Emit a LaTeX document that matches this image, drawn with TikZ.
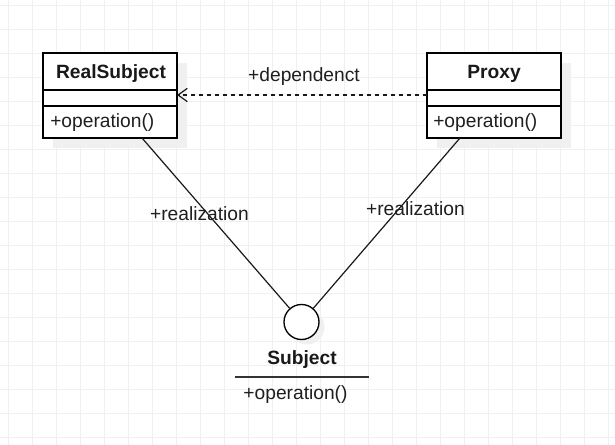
\documentclass[tikz,border=0pt]{standalone}
\usepackage{fontspec}
\setmainfont{Liberation Sans}
\usetikzlibrary{arrows.meta}
\begin{document}
\begin{tikzpicture}[x=0.75pt,y=-0.75pt,
  box/.style={draw=black,line width=1.1pt,fill=white},
  shadowbox/.style={fill=black!6,draw=none},
  lbl/.style={font=\fontsize{14.4}{16}\selectfont,text=black!88,inner sep=0pt},
  ttl/.style={font=\bfseries\fontsize{14.4}{16}\selectfont,text=black!90,inner sep=0pt},
  conn/.style={line width=0.9pt,draw=black!90}]
\useasboundingbox (0,0) rectangle (615,445);
\fill[white] (0,0) rectangle (615,445);
% grid
\foreach \x in {8,32,...,608} \draw[black!6,line width=0.6pt] (\x,0) -- (\x,445);
\foreach \y in {5,29,...,445} \draw[black!6,line width=0.6pt] (0,\y) -- (615,\y);
% shadows
\fill[shadowbox] (53,63) rectangle (187,148);
\fill[shadowbox] (437,63) rectangle (571,148);
\fill[shadowbox] (307,327) circle (17.5);
% RealSubject
\draw[box] (43,53) rectangle (177,138);
\draw[line width=1pt] (43,90) -- (177,90);
\draw[line width=1pt] (43,106) -- (177,106);
\node[ttl] (rsname) at (111,74) {RealSubject};
\node[lbl,anchor=west] (rsop) at (50,123) {+operation()};
\coordinate (rsright) at (177,95);
\coordinate (rsbot) at (142,138);
% Proxy
\draw[box] (427,53) rectangle (561,138);
\draw[line width=1pt] (427,90) -- (561,90);
\draw[line width=1pt] (427,106) -- (561,106);
\node[ttl] (pxname) at (494,74) {Proxy};
\node[lbl,anchor=west] (pxop) at (433,123) {+operation()};
\coordinate (pxleft) at (427,95);
\coordinate (pxbot) at (460,138);
% Subject interface
\node[circle,draw=black,line width=1pt,fill=white,minimum size=35*0.75pt,inner sep=0pt] (subj) at (301.5,322) {};
\node[ttl] (subjname) at (302,359.5) {Subject};
\draw[line width=1.3pt,black!80] (235,377) -- (369,377);
\node[lbl] (subjop) at (295.5,394.5) {+operation()};
% connectors
\draw[conn,dashed,dash pattern=on 3pt off 3pt,-{Straight Barb[length=7pt,width=10pt]}] (pxleft) -- (rsright);
\node[lbl] (deplbl) at (304,77) {+dependenct};
\draw[conn] (rsbot) -- (subj);
\draw[conn] (pxbot) -- (subj);
\node[lbl] (real1) at (199.5,214) {+realization};
\node[lbl] (real2) at (415.5,209) {+realization};
\end{tikzpicture}
\end{document}
